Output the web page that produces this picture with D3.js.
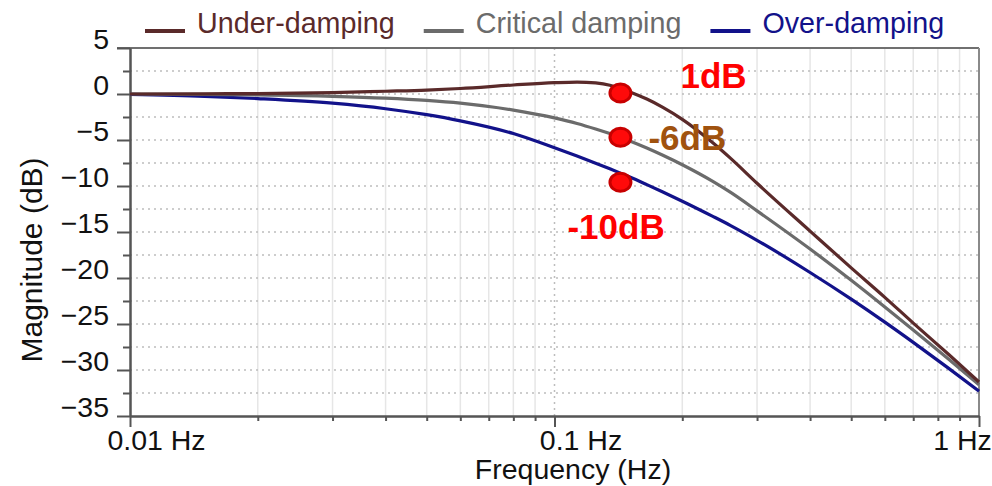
<!DOCTYPE html>
<html>
<head>
<meta charset="utf-8">
<script src="https://cdn.jsdelivr.net/npm/d3@7"></script>
<style>
  body { margin: 0; background: #fff; }
  text { font-family: "Liberation Sans", Arial, sans-serif; }
</style>
</head>
<body>
<svg id="chart"></svg>
<script>
let width = 992,
    height = 486;

// frequency samples (Hz) and magnitude (dB)
let freq = [0.01, 0.015, 0.02, 0.03, 0.04, 0.05, 0.06, 0.08, 0.1, 0.113, 0.125, 0.135, 0.143,
            0.15, 0.165, 0.18, 0.2, 0.236, 0.26, 0.3, 0.4, 0.5, 0.6, 0.7, 0.85, 1.0];

let underDamping = [0, 0.02, 0.05, 0.15, 0.3, 0.43, 0.6, 0.98, 1.23, 1.3, 1.2, 0.95, 0.6,
                    0.25, -0.55, -1.45, -2.75, -5.3, -7.0, -9.7, -14.9, -18.9, -22.1, -24.9, -28.35, -31.3];

let criticalDamping = [0, -0.05, -0.1, -0.25, -0.45, -0.7, -1.0, -1.75, -2.6, -3.2, -3.8, -4.3, -4.7,
                       -5.07, -5.87, -6.66, -7.69, -9.5, -10.7, -12.7, -16.85, -20.25, -23.15, -25.65, -28.85, -31.6];

let overDamping = [-0.05, -0.25, -0.5, -1.0, -1.6, -2.25, -2.92, -4.3, -5.85, -6.75, -7.52, -8.13, -8.6,
                   -9.0, -9.85, -10.65, -11.65, -13.3, -14.3, -15.9, -19.4, -22.3, -24.8, -27.0, -29.85, -32.3];

let seriesNames = ["Under-damping", "Critical damping", "Over-damping"];
let seriesColors = ["#5a2a2a", "#6b6b6b", "#12128a"];

// marked points and their labels
let markFreq = 0.143;
let markDb = [0.1, -4.7, -9.6];
let markText = ["1dB", "-6dB", "-10dB"];
let markColors = ["#ff0000", "#a0520e", "#ff0000"];

let yMajor = [5, 0, -5, -10, -15, -20, -25, -30, -35];
let yMinor = [2.5, -2.5, -7.5, -12.5, -17.5, -22.5, -27.5, -32.5];
let xMajor = [0.01, 0.1, 1];
let xMinor = [0.02, 0.03, 0.04, 0.05, 0.06, 0.07, 0.08, 0.09,
              0.2, 0.3, 0.4, 0.5, 0.6, 0.7, 0.8, 0.9];

let margin = {top: 48, right: 13, bottom: 70, left: 130};

let x = d3.scaleLog()
    .domain([0.01, 1])
    .range([margin.left, width - margin.right]);

let y = d3.scaleLinear()
    .domain([-35, 5])
    .range([height - margin.bottom, margin.top]);

let svg = d3.select('#chart')
    .attr('width', width)
    .attr('height', height);

svg.append('rect')
    .attr('width', width)
    .attr('height', height)
    .style('fill', '#fff');

// vertical grid
svg.append('g').selectAll('line')
    .data(xMinor)
    .enter().append('line')
    .attr('x1', d => x(d)).attr('x2', d => x(d))
    .attr('y1', y(5)).attr('y2', y(-35))
    .style('stroke', '#e6e6e6')
    .style('stroke-width', 1.5);

svg.append('line')
    .attr('x1', x(0.1)).attr('x2', x(0.1))
    .attr('y1', y(5)).attr('y2', y(-35))
    .style('stroke', '#bdbdbd')
    .style('stroke-width', 1.5)
    .style('stroke-dasharray', '2,4');

// horizontal dotted grid
svg.append('g').selectAll('line')
    .data(yMajor.concat(yMinor).filter(d => d > -35 && d < 5))
    .enter().append('line')
    .attr('x1', x(0.01)).attr('x2', x(1))
    .attr('y1', d => y(d)).attr('y2', d => y(d))
    .style('stroke', '#bdbdbd')
    .style('stroke-width', 1.5)
    .style('stroke-dasharray', '2,4');

// border top / right
svg.append('line')
    .attr('x1', x(0.01) - 13).attr('x2', x(1))
    .attr('y1', y(5)).attr('y2', y(5))
    .style('stroke', '#707070').style('stroke-width', 2);
svg.append('line')
    .attr('x1', x(1)).attr('x2', x(1))
    .attr('y1', y(5)).attr('y2', y(-35))
    .style('stroke', '#8a8a8a').style('stroke-width', 2);

// y axis
let yAxis = svg.append('g')
    .attr('transform', 'translate(' + margin.left + ',0)')
    .call(d3.axisLeft(y).tickValues(yMajor).tickSize(13).tickSizeOuter(0).tickPadding(8));
svg.append('g')
    .attr('transform', 'translate(' + margin.left + ',0)')
    .call(d3.axisLeft(y).tickValues(yMinor).tickSize(7).tickSizeOuter(0).tickFormat(''));

yAxis.selectAll('text')
    .attr('dy', '0')
    .style('font-size', '28.5px')
    .style('fill', '#111');

// x axis
let xAxis = svg.append('g')
    .attr('transform', 'translate(0,' + y(-35) + ')')
    .call(d3.axisBottom(x).tickValues(xMajor).tickSize(11).tickSizeOuter(0)
        .tickFormat(d => d + ' Hz'));
svg.append('g')
    .attr('transform', 'translate(0,' + y(-35) + ')')
    .call(d3.axisBottom(x).tickValues(xMinor).tickSize(5).tickSizeOuter(0).tickFormat(''));

xAxis.selectAll('text')
    .attr('y', 34)
    .attr('dy', '0')
    .attr('dx', (d, i) => i === xMajor.length - 1 ? -17 : 26)
    .style('font-size', '28.5px')
    .style('fill', '#111');

svg.selectAll('.domain, .tick line')
    .style('stroke', '#555')
    .style('stroke-width', 2);

// axis titles
svg.append('text')
    .attr('transform', 'translate(42,260) rotate(-90)')
    .attr('text-anchor', 'middle')
    .style('font-size', '30px')
    .style('fill', '#111')
    .text('Magnitude (dB)');

svg.append('text')
    .attr('x', 573)
    .attr('y', 479)
    .attr('text-anchor', 'middle')
    .style('font-size', '28.5px')
    .style('fill', '#111')
    .text('Frequency (Hz)');

// curves
let line = d3.line()
    .x((d, i) => x(freq[i]))
    .y(d => y(d))
    .curve(d3.curveMonotoneX);

let allSeries = [underDamping, criticalDamping, overDamping];

svg.append('g').selectAll('path')
    .data(allSeries.slice().reverse())
    .enter().append('path')
    .attr('d', line)
    .style('fill', 'none')
    .style('stroke', (d, i) => seriesColors[2 - i])
    .style('stroke-width', 3.2);

// markers
svg.append('g').selectAll('ellipse')
    .data(markDb)
    .enter().append('ellipse')
    .attr('cx', x(markFreq))
    .attr('cy', d => y(d))
    .attr('rx', 10.5)
    .attr('ry', 9)
    .style('fill', '#ff0a0a')
    .style('stroke', '#c80000')
    .style('stroke-width', 3);

let labelOffsets = [[60, -5], [28, 13], [-53, 57]];

svg.append('g').selectAll('text')
    .data(markText)
    .enter().append('text')
    .attr('x', (d, i) => x(markFreq) + labelOffsets[i][0])
    .attr('y', (d, i) => y(markDb[i]) + labelOffsets[i][1])
    .style('font-size', '35px')
    .style('font-weight', 'bold')
    .style('fill', (d, i) => markColors[i])
    .text(d => d);

// legend
let legend = svg.append('g');
let lx = 145;
seriesNames.forEach(function(name, i) {
    legend.append('line')
        .attr('x1', lx).attr('x2', lx + 40)
        .attr('y1', 31).attr('y2', 31)
        .style('stroke', seriesColors[i])
        .style('stroke-width', 4);
    let t = legend.append('text')
        .attr('x', lx + 52)
        .attr('y', 33)
        .style('font-size', '28.7px')
        .style('fill', seriesColors[i])
        .text(name);
    lx += 52 + t.node().getComputedTextLength() + 29;
});
</script>
</body>
</html>
